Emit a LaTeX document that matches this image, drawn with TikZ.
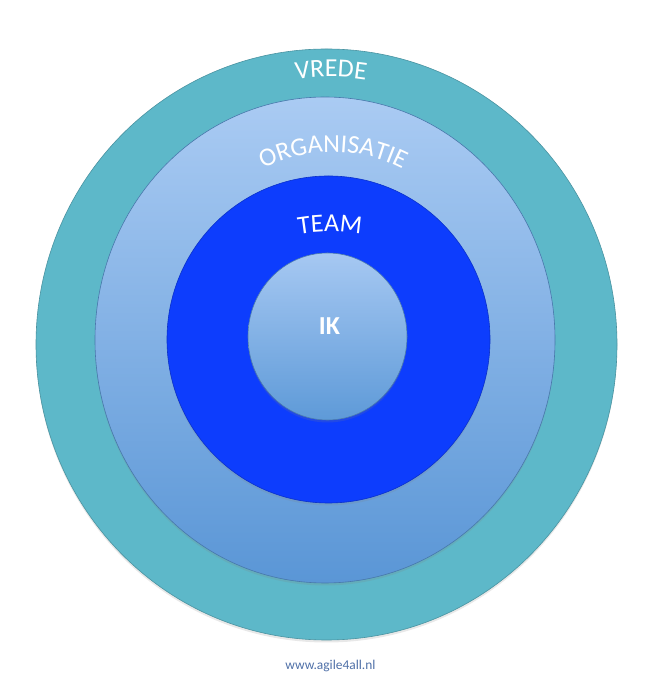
\documentclass[tikz,border=0pt]{standalone}
\usepackage{fontspec}
\setmainfont{Carlito}
\usetikzlibrary{decorations.text,shadows}

\newcommand\ringfont{\fontsize{26}{26}\selectfont}

\begin{document}
\begin{tikzpicture}[x=1bp,y=1bp,
  ring/.style={draw=#1!80!black, line width=0.6bp,
    drop shadow={opacity=0.18, shadow xshift=0bp, shadow yshift=-2.5bp}},
  ringlabel/.style={decorate, decoration={text along path,
    text={|\ringfont\color{white}|#1}, text align=center}},
  plainlabel/.style={text=white, font=\ringfont, inner sep=0pt}]
\useasboundingbox[fill=white] (0,0) rectangle (647,684);
\definecolor{vredeteal}{HTML}{5DB8C9}
\definecolor{orgtop}{HTML}{AACBF3}
\definecolor{orgbottom}{HTML}{5A96D6}
\definecolor{teamblue}{HTML}{0D3DFD}
\definecolor{iktop}{HTML}{A6C8F2}
\definecolor{ikbottom}{HTML}{5E9AD8}
\definecolor{urlblue}{HTML}{4F70A8}

% centres of the rings
\coordinate (vrede) at (326.5,339.5);
\coordinate (org)   at (325,344);
\coordinate (team)  at (328.5,344.5);
\coordinate (ik)    at (327.5,347.5);

\fill[ring=vredeteal, fill=vredeteal] (vrede) ellipse [x radius=290.5, y radius=295.5];
\shade[ring=orgbottom, top color=orgtop, bottom color=orgbottom] (org) ellipse [x radius=230, y radius=243];
\fill[ring=teamblue, fill=teamblue] (team) ellipse [x radius=161.5, y radius=163.5];
\shade[ring=ikbottom, top color=iktop, bottom color=ikbottom] (ik) ellipse [x radius=79.5, y radius=83.5];

% curved labels
\path[ringlabel=VREDE] (331,387) ++(130:220) arc [start angle=130, end angle=50, radius=220];
\path[ringlabel=ORGANISATIE] (333,382) ++(140:150) arc [start angle=140, end angle=40, radius=150];
\path[ringlabel=TEAM] (330,272) ++(120:180) arc [start angle=120, end angle=60, radius=180];

\node[plainlabel, font=\ringfont\bfseries] (iklabel) at (329.5,357.5) {IK};
\node[text=urlblue, font=\fontsize{13.5}{13.5}\selectfont] (url) at (330.5,18) {www.agile4all.nl};
\end{tikzpicture}
\end{document}
